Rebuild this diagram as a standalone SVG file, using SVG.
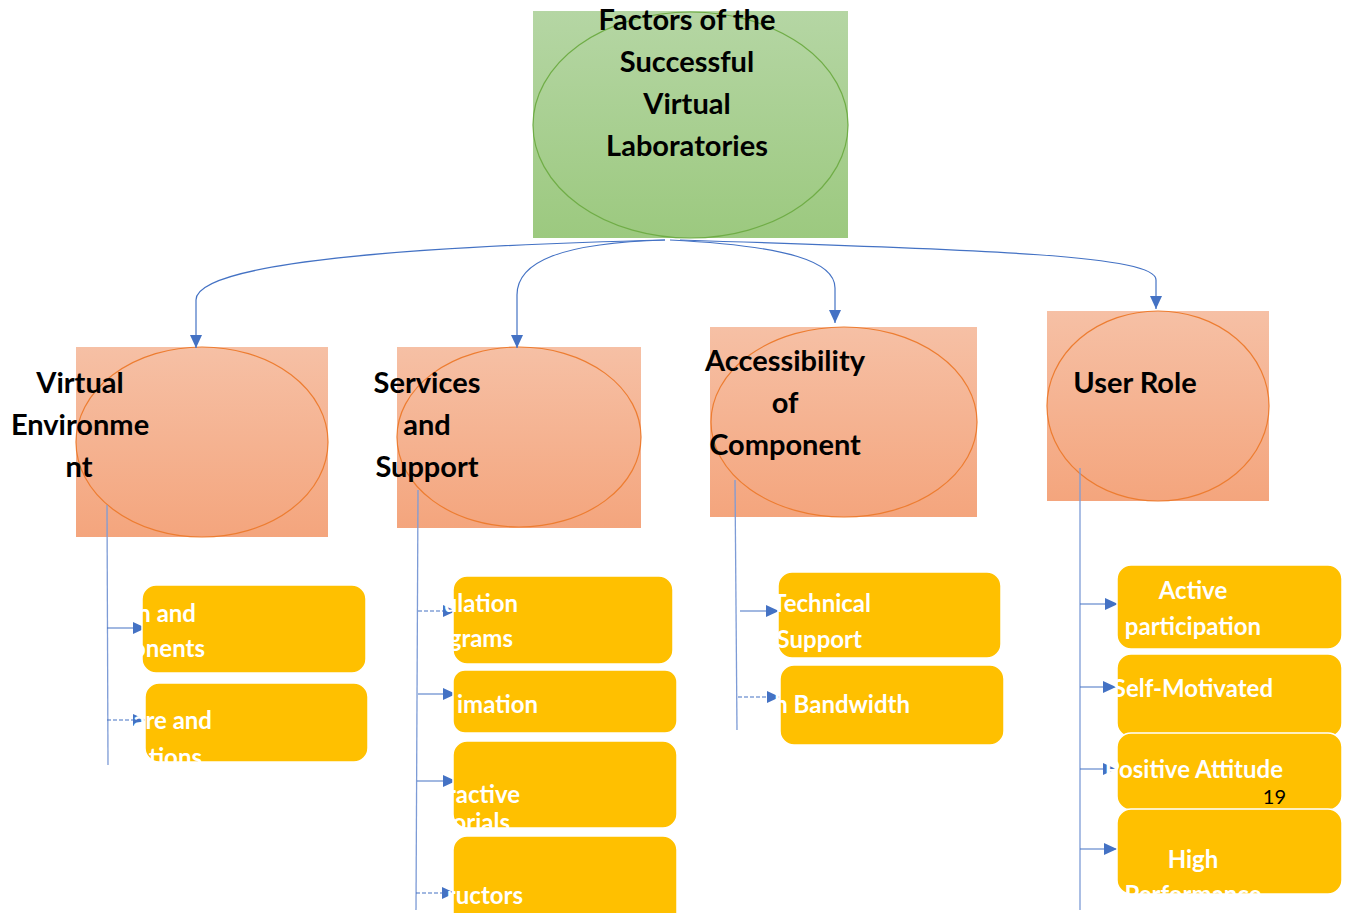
<svg xmlns="http://www.w3.org/2000/svg" width="1346" height="913" viewBox="0 0 1346 913">
<defs>
<linearGradient id="gGreen" x1="0" y1="0" x2="0" y2="1">
<stop offset="0" stop-color="#b5d6a4"/>
<stop offset="1" stop-color="#9cc97f"/>
</linearGradient>
<linearGradient id="gOrange" x1="0" y1="0" x2="0" y2="1">
<stop offset="0" stop-color="#f6c0a5"/>
<stop offset="1" stop-color="#f4a57d"/>
</linearGradient>
<marker id="arr" markerUnits="userSpaceOnUse" markerWidth="14" markerHeight="12" refX="13" refY="6" orient="auto">
<path d="M0,0 L13,6 L0,12 Z" fill="#4472c4"/>
</marker>
</defs>
<style>
.conn{fill:none;stroke:#4472c4;stroke-width:1.2}
.vline{fill:none;stroke:#7d9bd6;stroke-width:1.3}
.h{fill:none;stroke:#4472c4;stroke-width:1.2}
.dash{stroke-dasharray:4 2}
.title{font-family:Lato,"Liberation Sans",sans-serif;font-weight:700;font-size:29px;fill:#000}
.lbl{font-family:Lato,"Liberation Sans",sans-serif;font-weight:700;font-size:24px;fill:#fff}
.num{font-family:Lato,"Liberation Sans",sans-serif;font-size:20px;fill:#000}
.box{fill:#ffc000;stroke:#fff;stroke-width:1.5}
.orect{fill:url(#gOrange)}
.oell{fill:none;stroke:#ed7d31;stroke-width:1.2}
</style>
<rect width="1346" height="913" fill="#fff"/>

<g id="node-root">
<rect x="533" y="11" width="315" height="227" fill="url(#gGreen)"/>
<ellipse cx="690.5" cy="125" rx="157.5" ry="113" fill="none" stroke="#70ad47" stroke-width="1.2"/>
<text class="title" text-anchor="middle" x="687" y="30">Factors of the</text>
<text class="title" text-anchor="middle" x="687" y="72">Successful</text>
<text class="title" text-anchor="middle" x="687" y="114">Virtual</text>
<text class="title" text-anchor="middle" x="687" y="156">Laboratories</text>
</g>

<g id="node-virtual-environment">
<rect class="orect" x="76" y="347" width="252" height="190"/>
<ellipse class="oell" cx="202" cy="442" rx="126" ry="95"/>
<text class="title" text-anchor="middle" x="80" y="393">Virtual</text>
<text class="title" text-anchor="middle" x="80" y="435">Environme</text>
<text class="title" text-anchor="middle" x="79" y="477">nt</text>
</g>

<g id="node-services-support">
<rect class="orect" x="397" y="347" width="244" height="181"/>
<ellipse class="oell" cx="519" cy="437" rx="122" ry="90"/>
<text class="title" text-anchor="middle" x="427" y="393">Services</text>
<text class="title" text-anchor="middle" x="427" y="435">and</text>
<text class="title" text-anchor="middle" x="427" y="477">Support</text>
</g>

<g id="node-accessibility">
<rect class="orect" x="710" y="327" width="267" height="190"/>
<ellipse class="oell" cx="844" cy="422" rx="133" ry="95"/>
<text class="title" text-anchor="middle" x="785" y="371">Accessibility</text>
<text class="title" text-anchor="middle" x="785" y="413">of</text>
<text class="title" text-anchor="middle" x="785" y="455">Component</text>
</g>

<g id="node-user-role">
<rect class="orect" x="1047" y="311" width="222" height="190"/>
<ellipse class="oell" cx="1158" cy="406" rx="111" ry="95"/>
<text class="title" text-anchor="middle" x="1135" y="393">User Role</text>
</g>

<g id="connectors">
<path class="conn" d="M665,240 C420,246 196,262 196,300 L196,348" marker-end="url(#arr)"/>
<path class="conn" d="M665,240 C560,243 517,262 517,295 L517,348" marker-end="url(#arr)"/>
<path class="conn" d="M670,240 C790,246 835,262 835,288 L835,323" marker-end="url(#arr)"/>
<path class="conn" d="M680,240 C1000,250 1156,256 1156,280 L1156,309" marker-end="url(#arr)"/>
<path class="vline" d="M107,505 L108,765"/>
<path class="vline" d="M418,490 L416,910"/>
<path class="vline" d="M735,480 L737,730"/>
<path class="vline" d="M1080,468 L1080,910"/>
<path class="h" d="M107,628 L146,628" marker-end="url(#arr)"/>
<path class="h dash" d="M107,720 L146,720" marker-end="url(#arr)"/>
<path class="h dash" d="M418,611 L456,611" marker-end="url(#arr)"/>
<path class="h" d="M418,694 L456,694" marker-end="url(#arr)"/>
<path class="h" d="M417,781 L456,781" marker-end="url(#arr)"/>
<path class="h dash" d="M416,893 L455,893" marker-end="url(#arr)"/>
<path class="h" d="M740,611 L779,611" marker-end="url(#arr)"/>
<path class="h dash" d="M738,697 L780,697" marker-end="url(#arr)"/>
<path class="h" d="M1080,604 L1118,604" marker-end="url(#arr)"/>
<path class="h" d="M1080,687 L1116,687" marker-end="url(#arr)"/>
<path class="h" d="M1080,769 L1116,769" marker-end="url(#arr)"/>
<path class="h" d="M1080,849 L1117,849" marker-end="url(#arr)"/>
</g>

<g id="node-ve-1">
<rect class="box" x="142" y="585" width="224" height="88" rx="14"/>
<text class="lbl" text-anchor="end" x="196" y="622">n and</text>
<text class="lbl" text-anchor="end" x="205" y="657">onents</text>
</g>
<g id="node-ve-2">
<rect class="box" x="145" y="683" width="223" height="79" rx="14"/>
<text class="lbl" text-anchor="end" x="212" y="729">are and</text>
<text class="lbl" text-anchor="end" x="202" y="766">tions</text>
</g>

<g id="node-ss-1">
<rect class="box" x="453" y="576" width="220" height="88" rx="14"/>
<text class="lbl" text-anchor="end" x="518" y="612">ulation</text>
<text class="lbl" text-anchor="end" x="513" y="647">grams</text>
</g>
<g id="node-ss-2">
<rect class="box" x="453" y="670" width="224" height="63" rx="12"/>
<text class="lbl" text-anchor="end" x="538" y="713">imation</text>
</g>
<g id="node-ss-3">
<rect class="box" x="453" y="741" width="224" height="87" rx="14"/>
<text class="lbl" text-anchor="end" x="520" y="803">ractive</text>
<text class="lbl" text-anchor="end" x="510" y="831">orials</text>
</g>
<g id="node-ss-4">
<rect class="box" x="453" y="836" width="224" height="100" rx="14"/>
<text class="lbl" text-anchor="end" x="523" y="904">ructors</text>
</g>

<g id="node-acc-1">
<rect class="box" x="778" y="572" width="223" height="86" rx="14"/>
<text class="lbl" text-anchor="end" x="871" y="612">Technical</text>
<text class="lbl" text-anchor="end" x="862" y="648">Support</text>
</g>
<g id="node-acc-2">
<rect class="box" x="780" y="665" width="224" height="80" rx="14"/>
<text class="lbl" text-anchor="end" x="910" y="713">h Bandwidth</text>
</g>

<g id="node-ur-1">
<rect class="box" x="1117" y="565" width="225" height="84" rx="14"/>
<text class="lbl" text-anchor="middle" x="1193" y="599">Active</text>
<text class="lbl" text-anchor="middle" x="1193" y="635">participation</text>
</g>
<g id="node-ur-2">
<rect class="box" x="1117" y="654" width="225" height="83" rx="14"/>
<text class="lbl" text-anchor="end" x="1273" y="697">Self-Motivated</text>
</g>
<g id="node-ur-3">
<rect class="box" x="1117" y="733" width="225" height="77" rx="14"/>
<text class="lbl" text-anchor="end" x="1283" y="778">Positive Attitude</text>
<text class="num" text-anchor="end" x="1286" y="804">19</text>
</g>
<g id="node-ur-4">
<rect class="box" x="1117" y="809" width="225" height="85" rx="14"/>
<text class="lbl" text-anchor="middle" x="1193" y="868">High</text>
<text class="lbl" text-anchor="middle" x="1193" y="903">Performance</text>
</g>
</svg>
